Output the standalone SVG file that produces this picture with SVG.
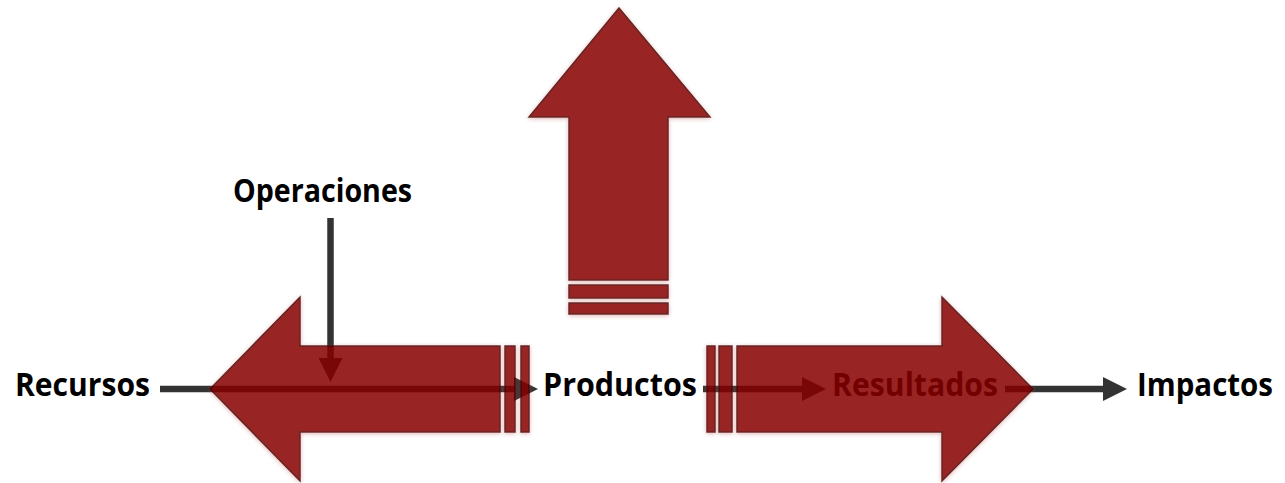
<svg xmlns="http://www.w3.org/2000/svg" width="1285" height="483" viewBox="0 0 1285 483">
<style>
.lbl{font-family:"Open Sans","Liberation Sans",sans-serif;font-weight:bold;font-size:32px;fill:#000}
.conn{stroke:#333;stroke-width:6.5;fill:none}
.arr{fill:#870304;stroke:#4a0000;stroke-width:1.5;stroke-linejoin:miter}
.arrows{opacity:0.855}
</style>
<defs>
<marker id="head" viewBox="0 0 24 24" markerWidth="24" markerHeight="24" refX="0" refY="12" orient="auto" markerUnits="userSpaceOnUse">
<path d="M0,0 L24,12 L0,24 z" fill="#333"/>
</marker>
<filter id="glow" x="-10%" y="-10%" width="120%" height="120%">
<feDropShadow dx="0" dy="1" stdDeviation="2" flood-color="#c05050" flood-opacity="0.5"/>
</filter>
</defs>

<g id="recursos"><text class="lbl" x="15" y="396" textLength="135" lengthAdjust="spacingAndGlyphs">Recursos</text></g>
<g id="operaciones"><text class="lbl" x="233" y="202" textLength="179" lengthAdjust="spacingAndGlyphs">Operaciones</text></g>
<g id="productos"><text class="lbl" x="543" y="396" textLength="154" lengthAdjust="spacingAndGlyphs">Productos</text></g>
<g id="resultados"><text class="lbl" x="832" y="396" textLength="166" lengthAdjust="spacingAndGlyphs">Resultados</text></g>
<g id="impactos"><text class="lbl" x="1137" y="396" textLength="136" lengthAdjust="spacingAndGlyphs">Impactos</text></g>

<g id="connectors">
<path class="conn" d="M160,389 H514" marker-end="url(#head)"/>
<path class="conn" d="M703,389 H802" marker-end="url(#head)"/>
<path class="conn" d="M1005,389 H1103" marker-end="url(#head)"/>
<path class="conn" d="M330.5,218 V358" marker-end="url(#head)"/>
</g>

<g class="arrows" filter="url(#glow)">
<g id="arrow-left">
<polygon class="arr" points="210,389 300,297 300,346 500,346 500,432 300,432 300,481"/>
<rect class="arr" x="505" y="346" width="10" height="86"/>
<rect class="arr" x="521" y="346" width="8" height="86"/>
</g>
<g id="arrow-up">
<polygon class="arr" points="619,8 710,117 668,117 668,280 569,280 569,117 529,117"/>
<rect class="arr" x="569" y="285" width="99" height="13"/>
<rect class="arr" x="569" y="303" width="99" height="11"/>
</g>
<g id="arrow-right">
<polygon class="arr" points="1033,389 942,297 942,346 737,346 737,432 942,432 942,481"/>
<rect class="arr" x="707" y="346" width="8" height="86"/>
<rect class="arr" x="719" y="346" width="13" height="86"/>
</g>
</g>
</svg>
